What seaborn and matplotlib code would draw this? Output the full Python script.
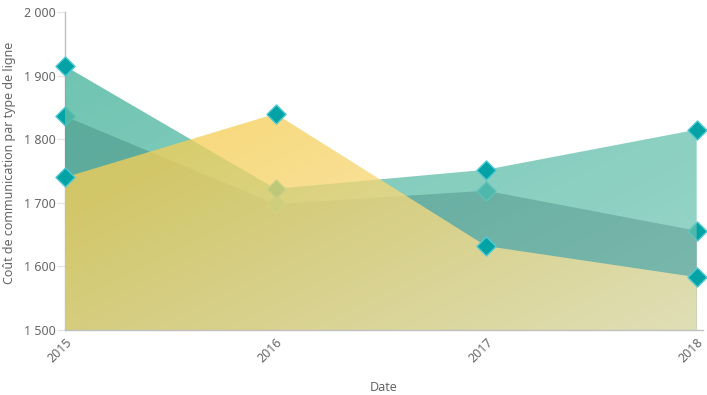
import numpy as np
import pandas as pd
import matplotlib
matplotlib.use("Agg")
import matplotlib.pyplot as plt
import seaborn as sns

# ---- data ----
years = [2015, 2016, 2017, 2018]
serie_a = [1915, 1722, 1752, 1815]   # light teal (drawn over B)
serie_b = [1836, 1698, 1719, 1656]   # darker teal (drawn first)
serie_c = [1740, 1840, 1632, 1583]   # yellow (front)
y_ticks = [1500, 1600, 1700, 1800, 1900, 2000]
y_tick_labels = ["1 500", "1 600", "1 700", "1 800", "1 900", "2 000"]
x_tick_labels = ["2015", "2016", "2017", "2018"]

df = pd.DataFrame({"year": years, "A": serie_a, "B": serie_b, "C": serie_c})

sns.set_theme(style="white")
plt.rcParams["font.family"] = ["Noto Sans", "DejaVu Sans"]

W, H = 707, 395
fig = plt.figure(figsize=(W / 100, H / 100), dpi=100)
ax = fig.add_axes([65 / W, 1 - 330 / H, (703 - 65) / W, (330 - 12) / H])

XMIN, XMAX, YMIN, YMAX = 2015, 2018.03, 1500, 2000
ax.set_xlim(XMIN, XMAX)
ax.set_ylim(YMIN, YMAX)

# gradient coordinate grid (top-left -> bottom-right)
nx, ny = 300, 200
gx = np.linspace(0, 1, nx)[None, :]
gy = np.linspace(1, 0, ny)[:, None]   # row 0 = top
t = np.clip((gx + (1 - gy)) / 2, 0, 1)


def grad_img(c0, c1, a0, a1, t0=0.0, t1=1.0):
    f = np.clip((t - t0) / (t1 - t0), 0, 1)
    img = np.zeros((ny, nx, 4))
    for k in range(3):
        img[..., k] = (c0[k] + (c1[k] - c0[k]) * f) / 255.0
    img[..., 3] = a0 + (a1 - a0) * f
    return img


def area(col, img, z):
    poly = ax.fill_between(df["year"], YMIN, df[col], facecolor="none",
                           edgecolor="none", zorder=z)
    im = ax.imshow(img, extent=[XMIN, XMAX, YMIN, YMAX], aspect="auto",
                   origin="upper", zorder=z, interpolation="bilinear")
    path = poly.get_paths()[0]
    im.set_clip_path(path, transform=ax.transData)


def markers(col, z):
    sns.scatterplot(data=df, x="year", y=col, marker="D", s=95,
                    color="#02a2a5", edgecolor="#4fcad3", linewidth=1.0,
                    ax=ax, zorder=z, clip_on=False)


# B first, then A, then C
area("B", grad_img((30, 22, 40), (30, 22, 40), 0.80, 0.40), 2)
markers("B", 3)
area("A", grad_img((88, 186, 164), (110, 197, 179), 0.88, 0.70), 4)
markers("A", 5)
area("C", grad_img((245, 207, 88), (249, 233, 186), 0.77, 0.80, 0.3, 1.0), 6)
markers("C", 7)

ax.set_xlim(XMIN, XMAX)
ax.set_ylim(YMIN, YMAX)

# axes styling
for s in ["top", "right"]:
    ax.spines[s].set_visible(False)
ax.spines["left"].set_color("#c0c0c0")
ax.spines["bottom"].set_color("#c0c0c0")
ax.spines["left"].set_linewidth(1)
ax.spines["bottom"].set_linewidth(1)
ax.spines["left"].set_zorder(1)
ax.spines["bottom"].set_zorder(8)

ax.set_yticks(y_ticks)
ax.set_yticklabels(y_tick_labels)
ax.set_xticks(years)
ax.set_xticklabels(x_tick_labels, rotation=45, ha="right",
                   rotation_mode="anchor")
ax.tick_params(axis="y", length=6, width=1, color="#e6e6e6", pad=1,
               labelsize=9, labelcolor="#666666", left=True)
ax.tick_params(axis="x", length=0, pad=4, labelsize=9,
               labelcolor="#666666", bottom=True)
ax.grid(False)

ax.set_xlabel("Date", fontsize=9, color="#666666")
ax.xaxis.set_label_coords(0.5, -0.16)
ax.set_ylabel("Coût de communication par type de ligne", fontsize=9,
              color="#666666")
ax.yaxis.set_label_coords(-0.077, 0.525)

fig.savefig("out.png", dpi=100)
